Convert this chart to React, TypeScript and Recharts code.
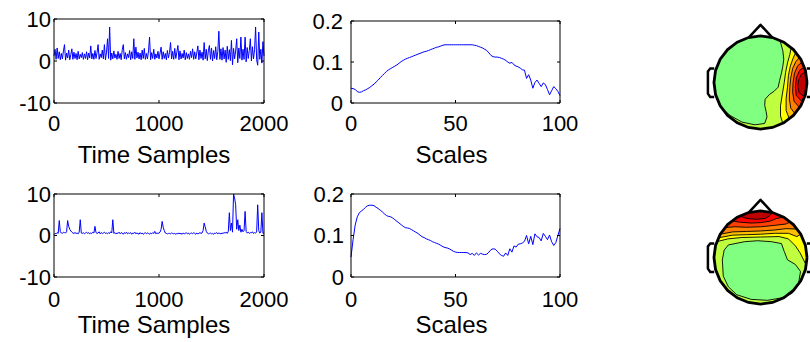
import React from 'react';
import { LineChart, Line, XAxis, YAxis, Label, ScatterChart, Scatter } from 'recharts';

const FONT = '"Liberation Sans", Arial, Helvetica, sans-serif';

// ---- line panels ----
const SAMPLE_STEP = 10; // one value every 10 time samples
const timeTicks = [0, 1000, 2000];
const ampTicks = [-10, 0, 10];
const scaleTicks = [0, 50, 100];
const coefTicks = [0, 0.1, 0.2];

const signalTop = [
  1.2, 2.8, 0.4, 3.1, 0.6, 2.2, 0.3, 1.8, 0.5, 2.4, 3.9, 0.2, 1.9, 0.7, 2.6, 0.3, 1.5, 2.9, 0.4, 2.1,
  0.6, 1.8, 0.3, 2.3, 0.5, 1.6, 0.8, 2.0, 0.4, 1.7, 0.6, 2.2, 0.3, 1.9, 0.7, 3.6, 0.5, 1.8, 0.4, 2.5,
  0.6, 2.0, 3.9, 0.4, 1.7, 0.8, 2.6, 0.5, 3.9, 0.3, 2.1, 5.3, 0.6, 8.1, 0.2, 1.9, 0.5, 2.4, 0.7, 1.6,
  0.4, 2.3, 0.6, 1.8, 0.3, 2.7, 3.9, 0.5, 2.0, 0.4, 1.7, 0.8, 2.5, 0.3, 2.2, 0.6, 5.3, 0.4, 3.3, 0.7,
  2.1, 0.5, 1.9, 0.3, 2.6, 0.6, 3.0, 0.4, 1.8, 0.5, 2.4, 5.7, 0.3, 2.0, 0.6, 2.8, 0.4, 1.7, 0.7, 2.3,
  0.5, 1.9, 3.3, 0.4, 2.2, 0.6, 1.8, 0.3, 2.5, 0.7, 2.0, 4.4, 0.5, 2.3, 0.4, 3.0, 0.6, 2.1, 3.7, 0.3,
  2.4, 0.5, 1.8, 0.7, 2.6, 0.3, 2.0, 0.6, 1.7, 0.4, 2.3, 0.8, 2.9, 0.4, 2.2, 0.5, 1.9, 3.6, 0.3, 2.6,
  0.6, 2.1, 0.2, 4.4, 0.5, 2.8, 0.1, 2.4, 3.7, 0.4, 3.1, 0.0, 2.5, 0.6, 3.4, 0.3, 2.2, 7.1, 0.4, 2.9,
  0.2, 3.2, 0.5, 2.6, -0.3, 3.5, 0.4, 2.7, 0.1, 4.9, -0.9, 3.0, 0.5, 2.4, 5.3, -0.4, 3.1, 0.6, 5.7, 0.2,
  2.8, 0.4, 5.7, -0.2, 3.2, 0.6, 2.5, 5.3, 0.0, 3.4, 0.5, 2.7, 8.1, 0.3, -1.0, 6.9, 0.4, 2.8, -0.5, 4.6,
  1.2,
];

const signalBottom = [
  0.2, 0.5, 0.4, 0.7, 0.5, 3.6, 0.9, 0.6, 0.5, 0.8, 0.7, 0.6, 0.9, 3.6, 2.2, 1.5, 1.1, 0.8, 0.6, 0.5,
  0.7, 0.5, 0.6, 0.4, 0.8, 3.8, 0.6, 0.5, 0.7, 0.4, 0.6, 0.8, 0.5, 0.7, 0.4, 0.6, 0.5, 0.8, 0.6, 2.2,
  0.7, 0.5, 0.6, 0.9, 0.4, 0.7, 0.5, 0.6, 0.8, 0.5, 0.6, 0.4, 0.7, 0.5, 0.9, 0.6, 3.8, 0.5, 0.7, 0.4,
  0.6, 0.5, 0.8, 0.4, 0.7, 0.6, 0.3, 0.7, 0.5, 0.8, 0.4, 0.6, 0.5, 0.7, 0.3, 0.6, 0.5, 0.8, 0.4, 0.6,
  0.5, 0.3, 0.7, 0.4, 0.6, 0.3, 0.5, 0.7, 0.4, 0.6, 0.5, 0.3, 0.6, 0.4, 0.7, 0.5, 1.0, 0.4, 0.6, 0.5,
  0.6, 0.8, 1.5, 3.4, 2.0, 1.2, 0.6, 0.5, 0.4, 0.5, 0.5, 0.4, 0.6, 0.5, 0.4, 0.5, 0.3, 0.5, 0.4, 0.6,
  0.4, 0.5, 0.3, 0.6, 0.4, 0.5, 0.7, 0.4, 0.6, 0.3, 0.5, 0.6, 0.4, 0.7, 0.5, 0.3, 0.6, 0.4, 0.5, 0.7,
  0.5, 0.6, 1.2, 3.0, 2.1, 1.0, 0.6, 0.4, 0.5, 0.6, 0.4, 0.5, 0.3, 0.6, 0.5, 0.7, 0.4, 0.6, 0.5, 0.4,
  0.6, 0.5, 0.7, 0.6, 0.8, 0.5, 1.0, 5.5, 1.2, 3.0, 0.8, 10.0, 9.0, 7.4, 1.5, 3.8, 1.2, 2.5, 0.8, 1.5,
  0.9, 1.2, 5.8, 1.0, 0.6, 0.8, 0.5, 0.7, 0.6, 0.9, 0.5, 0.7, 0.6, 0.8, 7.4, 1.2, 0.6, 0.8, 5.5, 0.5,
  0.6,
];

// coefficient per scale, scales 0..100
const coefTop = [
  0.036, 0.035, 0.033, 0.028, 0.026, 0.027, 0.030, 0.032, 0.035, 0.038,
  0.042, 0.046, 0.051, 0.056, 0.062, 0.067, 0.072, 0.077, 0.081, 0.084,
  0.087, 0.090, 0.093, 0.097, 0.101, 0.104, 0.107, 0.109, 0.111, 0.113,
  0.115, 0.117, 0.119, 0.121, 0.123, 0.125, 0.126, 0.128, 0.130, 0.132,
  0.134, 0.136, 0.137, 0.139, 0.141, 0.142, 0.142, 0.142, 0.142, 0.142,
  0.142, 0.142, 0.142, 0.142, 0.142, 0.142, 0.142, 0.142, 0.142, 0.141,
  0.140, 0.138, 0.136, 0.134, 0.131, 0.128, 0.122, 0.116, 0.113, 0.112,
  0.112, 0.111, 0.109, 0.107, 0.104, 0.100, 0.097, 0.099, 0.093, 0.090,
  0.088, 0.085, 0.081, 0.080, 0.060, 0.069, 0.056, 0.036, 0.050, 0.056,
  0.048, 0.040, 0.049, 0.045, 0.033, 0.020, 0.030, 0.040, 0.035, 0.028,
  0.018,
];

const coefBottom = [
  0.048, 0.090, 0.125, 0.145, 0.155, 0.159, 0.163, 0.168, 0.172, 0.173,
  0.173, 0.172, 0.168, 0.165, 0.161, 0.157, 0.152, 0.148, 0.146, 0.145,
  0.142, 0.138, 0.134, 0.130, 0.126, 0.122, 0.119, 0.118, 0.117, 0.114,
  0.111, 0.108, 0.105, 0.101, 0.097, 0.095, 0.092, 0.090, 0.088, 0.085,
  0.083, 0.081, 0.079, 0.076, 0.073, 0.071, 0.070, 0.068, 0.065, 0.062,
  0.060, 0.059, 0.059, 0.059, 0.059, 0.059, 0.058, 0.054, 0.057, 0.052,
  0.058, 0.053, 0.057, 0.055, 0.054, 0.055, 0.060, 0.066, 0.068, 0.067,
  0.062, 0.056, 0.052, 0.050, 0.058, 0.052, 0.068, 0.060, 0.075, 0.072,
  0.079, 0.080, 0.082, 0.086, 0.100, 0.080, 0.098, 0.078, 0.104, 0.097,
  0.095, 0.087, 0.105, 0.098, 0.090, 0.101, 0.085, 0.076, 0.083, 0.100,
  0.117,
];

// ---- scalp maps (unit head radius, u to the right, v to the front) ----
const HEAD_RING: [number, number][] = [
  [1.0, 0.0], [0.966, 0.259], [0.866, 0.5], [0.707, 0.707], [0.5, 0.866], [0.259, 0.966],
  [0.0, 1.0], [-0.259, 0.966], [-0.5, 0.866], [-0.707, 0.707], [-0.866, 0.5], [-0.966, 0.259],
  [-1.0, 0.0], [-0.966, -0.259], [-0.866, -0.5], [-0.707, -0.707], [-0.5, -0.866], [-0.259, -0.966],
  [0.0, -1.0], [0.259, -0.966], [0.5, -0.866], [0.707, -0.707], [0.866, -0.5], [0.966, -0.259],
];
const NOSE: [number, number][] = [[-0.25, 0.97], [0, 1.24], [0.25, 0.97]];
const EAR_LEFT: [number, number][] = [
  [-0.995, 0.3], [-1.08, 0.3], [-1.13, 0.24], [-1.13, -0.24], [-1.08, -0.31], [-0.995, -0.31],
];
const EAR_RIGHT: [number, number][] = [
  [0.995, 0.3], [1.08, 0.3], [1.13, 0.24], [1.13, -0.24], [1.08, -0.31], [0.995, -0.31],
];

const LEVEL_COLORS = ['#80FF80', '#BFFF40', '#FFFF00', '#FFBF00', '#FF8000', '#FF4000', '#FF0000', '#BF0000'];

// map 1: hot spot on the right side
const m1Green: [number, number][] = [
  [0.42, 0.905], [0.48, 0.68], [0.5, 0.5], [0.48, 0.35], [0.45, 0.2], [0.41, 0.04], [0.38, -0.1],
  [0.29, -0.19], [0.19, -0.26], [0.1, -0.36], [0.09, -0.49], [0.12, -0.62], [0.14, -0.74], [0.09, -0.88],
  [-0.12, -0.91], [-0.4, -0.85], [-0.65, -0.71], [-0.8, -0.58],
];
const m1Edge2: [number, number][] = [
  [0.66, 0.75], [0.63, 0.6], [0.58, 0.42], [0.54, 0.22], [0.51, 0.0], [0.47, -0.25], [0.43, -0.5], [0.43, -0.72], [0.48, -0.877],
];
const m1Edge3: [number, number][] = [
  [0.76, 0.65], [0.7, 0.52], [0.64, 0.35], [0.6, 0.15], [0.58, -0.1], [0.55, -0.35], [0.55, -0.6], [0.62, -0.785],
];
const m1Edge4: [number, number][] = [
  [0.84, 0.54], [0.76, 0.45], [0.69, 0.3], [0.65, 0.1], [0.63, -0.1], [0.62, -0.35], [0.65, -0.55], [0.74, -0.67],
];
const m1Edge5: [number, number][] = [
  [0.898, 0.44], [0.8, 0.36], [0.73, 0.2], [0.7, 0.0], [0.69, -0.2], [0.72, -0.4], [0.84, -0.54],
];
const m1Edge6: [number, number][] = [
  [0.944, 0.33], [0.84, 0.26], [0.77, 0.1], [0.75, -0.1], [0.77, -0.28], [0.905, -0.425],
];
const m1Edge7: [number, number][] = [
  [0.974, 0.226], [0.88, 0.18], [0.82, 0.05], [0.8, -0.08], [0.83, -0.22], [0.95, -0.31],
];

// map 2: hot spot at the front
const m2Green: [number, number][] = [
  [-0.69, 0.27], [-0.34, 0.34], [-0.06, 0.36], [0.23, 0.34], [0.45, 0.3], [0.51, 0.13], [0.58, -0.05],
  [0.75, -0.15], [0.86, -0.3], [0.82, -0.54], [0.68, -0.77], [0.44, -0.87], [0.15, -0.92], [-0.2, -0.9],
  [-0.51, -0.8], [-0.69, -0.63], [-0.8, -0.4], [-0.82, -0.05], [-0.78, 0.16],
];
const m2Edge2: [number, number][] = [
  [-0.94, 0.34], [-0.7, 0.4], [-0.4, 0.43], [0.0, 0.44], [0.4, 0.45], [0.6, 0.4], [0.75, 0.25], [0.85, 0.1], [0.985, -0.17],
];
const m2Edge3: [number, number][] = [
  [-0.906, 0.423], [-0.6, 0.48], [-0.3, 0.49], [0.0, 0.5], [0.3, 0.52], [0.6, 0.52], [0.78, 0.45], [0.866, 0.5],
];
const m2Edge4: [number, number][] = [
  [-0.866, 0.5], [-0.6, 0.55], [-0.3, 0.56], [0.0, 0.57], [0.3, 0.59], [0.55, 0.62], [0.79, 0.61],
];
const m2Edge5: [number, number][] = [
  [-0.766, 0.643], [-0.55, 0.66], [-0.3, 0.65], [0.0, 0.66], [0.3, 0.69], [0.55, 0.72], [0.643, 0.766],
];
const m2Edge6: [number, number][] = [
  [-0.616, 0.788], [-0.45, 0.76], [-0.2, 0.74], [0.0, 0.75], [0.2, 0.78], [0.35, 0.84], [0.5, 0.866],
];
const m2Edge7: [number, number][] = [
  [-0.454, 0.891], [-0.3, 0.84], [-0.1, 0.82], [0.1, 0.84], [0.2, 0.9], [0.259, 0.966],
];

const ring = (idx: number[]) => idx.map((i) => HEAD_RING[i]);

const map1Layers = [
  { color: LEVEL_COLORS[1], pts: HEAD_RING },
  { color: LEVEL_COLORS[0], pts: [...m1Green, ...ring([14, 13, 12, 11, 10, 9, 8, 7, 6, 5])] },
  { color: LEVEL_COLORS[2], pts: [...m1Edge2, ...ring([20, 21, 22, 23, 0, 1, 2, 3])] },
  { color: LEVEL_COLORS[3], pts: [...m1Edge3, ...ring([21, 22, 23, 0, 1, 2, 3])] },
  { color: LEVEL_COLORS[4], pts: [...m1Edge4, ...ring([21, 22, 23, 0, 1, 2])] },
  { color: LEVEL_COLORS[5], pts: [...m1Edge5, ...ring([22, 23, 0, 1, 2])] },
  { color: LEVEL_COLORS[6], pts: [...m1Edge6, ...ring([23, 0, 1])] },
  { color: LEVEL_COLORS[7], pts: [...m1Edge7, ...ring([23, 0, 1])] },
];

const map2Layers = [
  { color: LEVEL_COLORS[1], pts: HEAD_RING },
  { color: LEVEL_COLORS[0], pts: m2Green },
  { color: LEVEL_COLORS[2], pts: [...m2Edge2, ...ring([0, 1, 2, 3, 4, 5, 6, 7, 8, 9, 10])] },
  { color: LEVEL_COLORS[3], pts: [...m2Edge3, ...ring([3, 4, 5, 6, 7, 8, 9, 10])] },
  { color: LEVEL_COLORS[4], pts: [...m2Edge4, ...ring([3, 4, 5, 6, 7, 8, 9])] },
  { color: LEVEL_COLORS[5], pts: [...m2Edge5, ...ring([4, 5, 6, 7, 8, 9])] },
  { color: LEVEL_COLORS[6], pts: [...m2Edge6, ...ring([5, 6, 7, 8])] },
  { color: LEVEL_COLORS[7], pts: [...m2Edge7, ...ring([6, 7])] },
];

const closed = (pts: [number, number][]) => [...pts, pts[0]].map(([u, v]) => ({ u, v }));
const open = (pts: [number, number][]) => pts.map(([u, v]) => ({ u, v }));

const toSeries = (vals: number[], step: number) => vals.map((y, i) => ({ x: i * step, y }));

const NoDot = () => <g />;

type PanelBox = {
  left: number; top: number; width: number; height: number;
  plotLeft: number; plotRight: number; plotTop: number; plotBottom: number;
  xTickMargin: number; yTickMargin: number; labelOffset: number; labelDx: number;
};

const tickStyle = { fontSize: 22, fill: '#000', fontFamily: FONT };
const frameLine = { stroke: '#000', strokeWidth: 1 };

function Panel({ box, data, xDomain, xTicks, yDomain, yTicks, label }: {
  box: PanelBox; data: { x: number; y: number }[]; xDomain: number[]; xTicks: number[];
  yDomain: number[]; yTicks: number[]; label: string;
}) {
  return (
    <div style={{ position: 'absolute', left: box.left, top: box.top }}>
      <LineChart
        width={box.width}
        height={box.height}
        data={data}
        margin={{ top: box.plotTop - 1, right: box.width - box.plotRight - 1, bottom: 0, left: 0 }}
      >
        <XAxis
          dataKey="x" type="number" domain={xDomain} ticks={xTicks} interval={0}
          height={box.height - box.plotBottom} tick={tickStyle} tickSize={-3}
          tickMargin={box.xTickMargin} axisLine={frameLine} tickLine={frameLine}
        >
          <Label value={label} position="insideBottom" offset={box.labelOffset} dx={box.labelDx}
            fontSize={24} fill="#000" fontFamily={FONT} />
        </XAxis>
        <XAxis
          xAxisId="top" orientation="top" dataKey="x" type="number" domain={xDomain} ticks={xTicks}
          interval={0} height={1} tickSize={-3} tickFormatter={() => ''}
          axisLine={frameLine} tickLine={frameLine}
        />
        <YAxis
          type="number" domain={yDomain} ticks={yTicks} interval={0} width={box.plotLeft}
          tick={tickStyle} tickSize={-3} tickMargin={box.yTickMargin}
          axisLine={frameLine} tickLine={frameLine}
        />
        <YAxis
          yAxisId="right" orientation="right" type="number" domain={yDomain} ticks={yTicks}
          interval={0} width={1} tickSize={-3} tickFormatter={() => ''}
          axisLine={frameLine} tickLine={frameLine}
        />
        <Line xAxisId="top" yAxisId="right" dataKey="y" type="linear" stroke="none" dot={false}
          activeDot={false} isAnimationActive={false} />
        <Line dataKey="y" type="linear" stroke="#0000FF" strokeWidth={1} dot={false}
          activeDot={false} isAnimationActive={false} />
      </LineChart>
    </div>
  );
}

const HEAD_SIZE = 121; // px for 2.6 head-radius units

function ScalpMap({ left, top, layers }: { left: number; top: number; layers: { color: string; pts: [number, number][] }[] }) {
  return (
    <div style={{ position: 'absolute', left, top }}>
      <ScatterChart width={HEAD_SIZE} height={HEAD_SIZE} margin={{ top: 0, right: 0, bottom: 0, left: 0 }}>
        <XAxis type="number" dataKey="u" domain={[-1.3, 1.3]} hide />
        <YAxis type="number" dataKey="v" domain={[-1.3, 1.3]} hide />
        <Scatter data={open(EAR_LEFT)} shape={NoDot} isAnimationActive={false}
          line={{ fill: 'none', stroke: '#000', strokeWidth: 2.5 }} />
        <Scatter data={open(EAR_RIGHT)} shape={NoDot} isAnimationActive={false}
          line={{ fill: 'none', stroke: '#000', strokeWidth: 2.5 }} />
        <Scatter data={open(NOSE)} shape={NoDot} isAnimationActive={false}
          line={{ fill: 'none', stroke: '#000', strokeWidth: 2.5, strokeLinejoin: 'round' }} />
        {layers.map((layer, i) => (
          <Scatter key={i} data={closed(layer.pts)} shape={NoDot} isAnimationActive={false}
            line={{ fill: layer.color, stroke: '#000', strokeWidth: 0.9 }} />
        ))}
        <Scatter data={closed(HEAD_RING)} shape={NoDot} isAnimationActive={false}
          line={{ fill: 'none', stroke: '#000', strokeWidth: 2.8 }} />
      </ScatterChart>
    </div>
  );
}

const boxes: Record<string, PanelBox> = {
  tl: { left: 0, top: 0, width: 300, height: 170, plotLeft: 54, plotRight: 264, plotTop: 19, plotBottom: 103, xTickMargin: 15, yTickMargin: 6, labelOffset: 7, labelDx: -5 },
  tr: { left: 300, top: 0, width: 300, height: 170, plotLeft: 51, plotRight: 260, plotTop: 21, plotBottom: 103, xTickMargin: 15, yTickMargin: 11, labelOffset: 7, labelDx: -4 },
  bl: { left: 0, top: 170, width: 300, height: 172, plotLeft: 54, plotRight: 264, plotTop: 24, plotBottom: 107, xTickMargin: 17, yTickMargin: 6, labelOffset: 9, labelDx: -5 },
  br: { left: 300, top: 170, width: 300, height: 172, plotLeft: 51, plotRight: 260, plotTop: 24, plotBottom: 107, xTickMargin: 17, yTickMargin: 10, labelOffset: 9, labelDx: -4 },
};

export default function App() {
  return (
    <div style={{ position: 'fixed', left: 0, top: 0, width: 810, height: 342, overflow: 'hidden', background: '#fff', fontFamily: FONT }}>
      <Panel box={boxes.tl} data={toSeries(signalTop, SAMPLE_STEP)} xDomain={[0, 2000]} xTicks={timeTicks}
        yDomain={[-10, 10]} yTicks={ampTicks} label="Time Samples" />
      <Panel box={boxes.tr} data={toSeries(coefTop, 1)} xDomain={[0, 100]} xTicks={scaleTicks}
        yDomain={[0, 0.2]} yTicks={coefTicks} label="Scales" />
      <Panel box={boxes.bl} data={toSeries(signalBottom, SAMPLE_STEP)} xDomain={[0, 2000]} xTicks={timeTicks}
        yDomain={[-10, 10]} yTicks={ampTicks} label="Time Samples" />
      <Panel box={boxes.br} data={toSeries(coefBottom, 1)} xDomain={[0, 100]} xTicks={scaleTicks}
        yDomain={[0, 0.2]} yTicks={coefTicks} label="Scales" />
      <ScalpMap left={700} top={22} layers={map1Layers} />
      <ScalpMap left={700} top={197} layers={map2Layers} />
    </div>
  );
}
